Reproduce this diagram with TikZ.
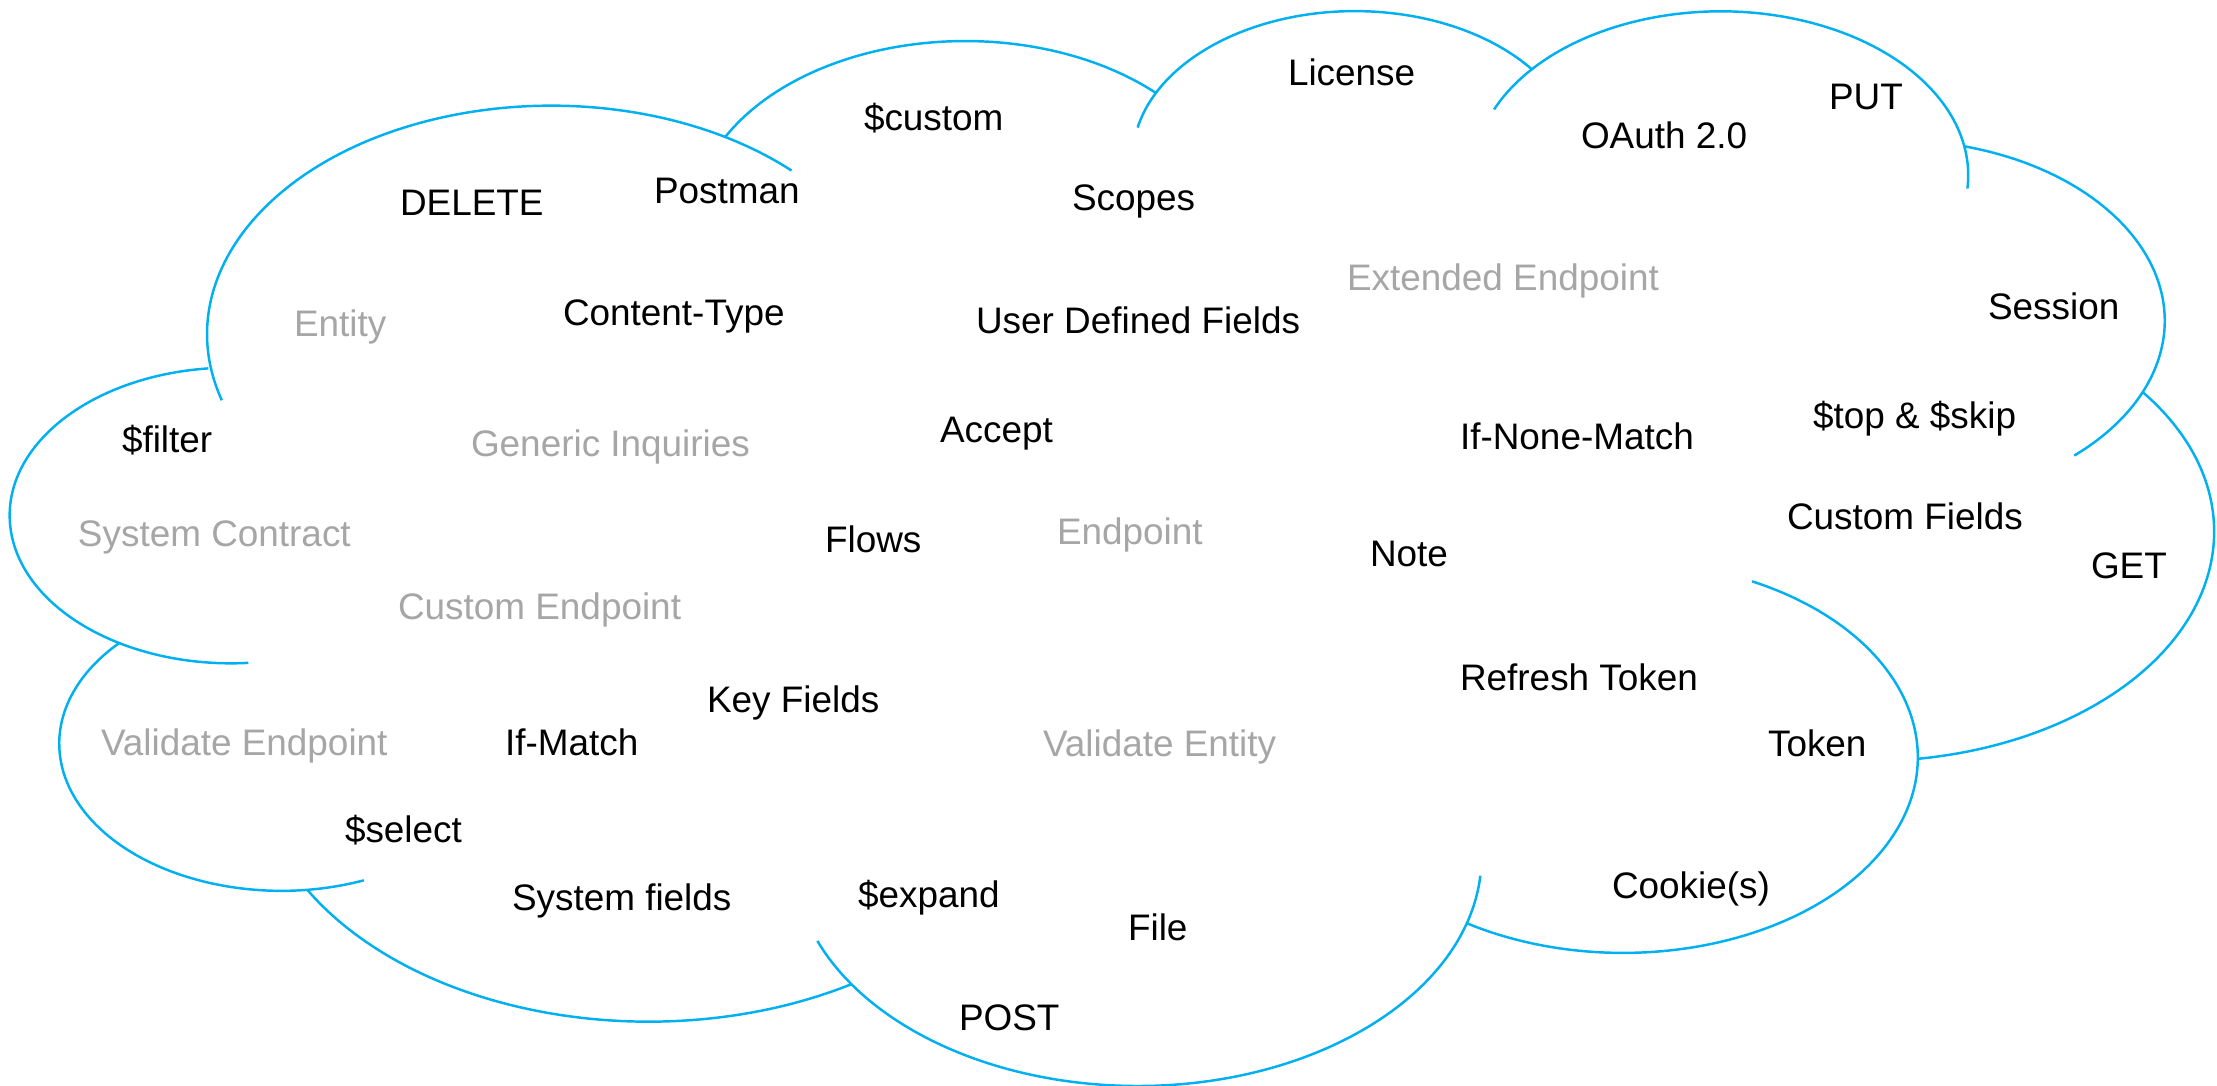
\documentclass[tikz,border=0pt]{standalone}
\usepackage{fontspec}
\setmainfont{Liberation Sans}
\definecolor{cloudblue}{RGB}{0,176,240}
\definecolor{softgray}{RGB}{166,166,166}
\tikzset{
  cloudline/.style={draw=cloudblue, line width=0.7pt},
  word/.style={anchor=base west, inner sep=0pt, outer sep=0pt, text=black, font=\fontsize{10.5pt}{12.6pt}\selectfont},
  faint/.style={word, text=softgray}
}
% convert a visual angle (DrawingML) to a parametric angle, unwrapped
\newcommand\cloudpar[3]{%
  \pgfmathsetmacro\clRaw{atan2((#1)*sin(#3),(#2)*cos(#3))}%
  \pgfmathsetmacro\clRes{\clRaw+360*round(((#3)-(\clRaw))/360)}%
}
% #1 wR, #2 hR, #3 start, #4 sweep, #5 extension before, #6 extension after
\newcommand\carc[6]{%
  \cloudpar{#1}{#2}{#3}\let\clTS\clRes
  \cloudpar{#1}{#2}{(#3)+(#4)}\let\clTE\clRes
  \cloudpar{#1}{#2}{(#3)-(#5)}\let\clTA\clRes
  \cloudpar{#1}{#2}{(#3)+(#4)+(#6)}\let\clTB\clRes
  \pgfmathsetmacro\clCX{\clPX-(#1)*cos(\clTS)}%
  \pgfmathsetmacro\clCY{\clPY-(#2)*sin(\clTS)}%
  \pgfmathsetmacro\clDX{\clSX*(\clCX+(#1)*cos(\clTA))+\clOX}%
  \pgfmathsetmacro\clDY{-(\clSY*(\clCY+(#2)*sin(\clTA))+\clOY)}%
  \pgfmathsetmacro\clRX{\clSX*(#1)}%
  \pgfmathsetmacro\clRY{\clSY*(#2)}%
  \pgfmathsetmacro\clAA{-(\clTA)}%
  \pgfmathsetmacro\clAB{-(\clTB)}%
  \draw[cloudline] (\clDX,\clDY) arc[start angle=\clAA, end angle=\clAB, x radius=\clRX cm, y radius=\clRY cm];%
  \pgfmathsetmacro\clPX{\clCX+(#1)*cos(\clTE)}%
  \pgfmathsetmacro\clPY{\clCY+(#2)*sin(\clTE)}%
}
\begin{document}
\begin{tikzpicture}
\fill[white] (0,0) rectangle (22.17,-10.85);
\path[use as bounding box] (0,0) rectangle (22.17,-10.85);
\def\clSX{0.0050938}
\def\clOX{0.115}
\def\clSY{0.00248}
\def\clOY{0.076}
\def\clPX{390.0}
\def\clPY{1437.0}
\carc{675.3}{919.0}{-190.48748}{123.78053}{11.858}{12.319}
\carc{533.3}{726.7}{-144.10238}{89.94523}{0}{0}
\carc{436.5}{594.5}{-145.80792}{99.72302}{17.686}{0}
\carc{485.7}{659.5}{-130.98607}{117.24173}{18.195}{20.008}
\carc{533.3}{727.3}{-78.70888}{109.02692}{0}{26.387}
\carc{677.5}{922.0}{-46.26725}{130.269}{0}{0}
\carc{578.5}{786.7}{0.62502}{114.03333}{70.917}{0}
\carc{675.2}{921.5}{22.4516}{115.17255}{15.998}{14.081}
\carc{772.0}{1054.3}{66.24263}{75.71102}{0}{0}
\carc{436.0}{591.8}{-274.94208}{146.73557}{11.447}{0}
\carc{434.5}{594.5}{-246.8285}{152.51885}{26.429}{0}

\node[word] (license) at (12.88,-0.852) {License};
\node[word] (custom) at (8.64,-1.303) {\$custom};
\node[word] (put) at (18.29,-1.095) {PUT};
\node[word] (oauth) at (15.81,-1.488) {OAuth 2.0};
\node[word] (delete) at (4.00,-2.155) {DELETE};
\node[word] (postman) at (6.54,-2.03) {Postman};
\node[word] (scopes) at (10.72,-2.103) {Scopes};
\node[faint] (extended) at (13.47,-2.902) {Extended Endpoint};
\node[faint] (entity) at (2.94,-3.365) {Entity};
\node[word] (content) at (5.63,-3.25) {Content-Type};
\node[word] (udf) at (9.76,-3.337) {User Defined Fields};
\node[word] (session) at (19.88,-3.19) {Session};
\node[word] (filter) at (1.22,-4.52) {\$filter};
\node[faint] (generic) at (4.71,-4.56) {Generic Inquiries};
\node[word] (accept) at (9.40,-4.42) {Accept};
\node[word] (topskip) at (18.13,-4.282) {\$top \& \$skip};
\node[word] (ifnone) at (14.60,-4.49) {If-None-Match};
\node[faint] (syscontract) at (0.78,-5.46) {System Contract};
\node[word] (customfields) at (17.87,-5.29) {Custom Fields};
\node[word] (flows) at (8.25,-5.526) {Flows};
\node[faint] (endpoint) at (10.57,-5.44) {Endpoint};
\node[word] (note) at (13.70,-5.66) {Note};
\node[word] (get) at (20.91,-5.789) {GET};
\node[faint] (customep) at (3.98,-6.192) {Custom Endpoint};
\node[word] (refresh) at (14.60,-6.905) {Refresh Token};
\node[word] (keyfields) at (7.07,-7.12) {Key Fields};
\node[faint] (validateep) at (1.01,-7.555) {Validate Endpoint};
\node[word] (ifmatch) at (5.05,-7.555) {If-Match};
\node[faint] (validateent) at (10.43,-7.562) {Validate Entity};
\node[word] (token) at (17.68,-7.565) {Token};
\node[word] (select) at (3.45,-8.424) {\$select};
\node[word] (cookie) at (16.12,-8.98) {Cookie(s)};
\node[word] (sysfields) at (5.12,-9.102) {System fields};
\node[word] (expand) at (8.58,-9.077) {\$expand};
\node[word] (file) at (11.28,-9.408) {File};
\node[word] (post) at (9.59,-10.30) {POST};
\end{tikzpicture}
\end{document}
